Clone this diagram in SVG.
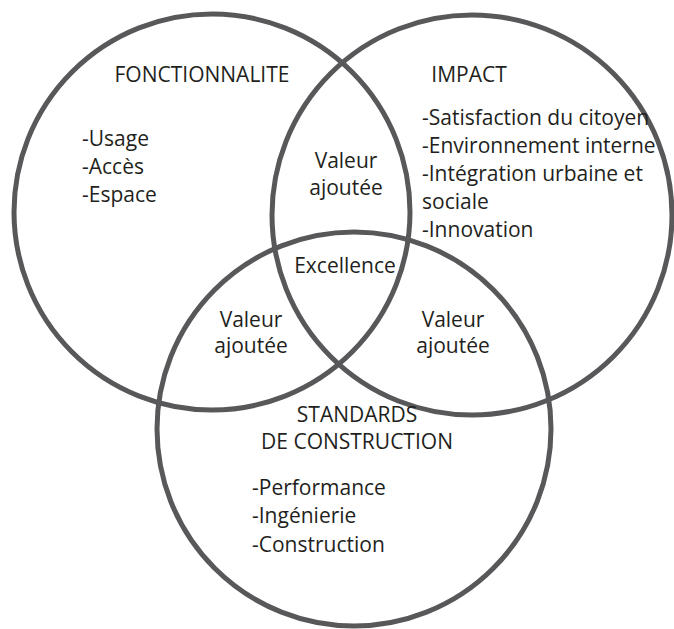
<svg xmlns="http://www.w3.org/2000/svg" width="674" height="629" viewBox="0 0 674 629">
<style>
  .ring { fill: none; stroke: #58585a; stroke-width: 5; }
  text { font-family: "Open Sans", "Noto Sans", "DejaVu Sans", sans-serif; font-size: 21px; fill: #231f20; }
  .c { text-anchor: middle; }
</style>
<rect x="0" y="0" width="674" height="629" fill="#ffffff"/>
<g id="circle-fonctionnalite">
  <circle class="ring" cx="212" cy="212" r="198"/>
  <text class="c" x="202" y="82">FONCTIONNALITE</text>
  <text x="82" y="146">-Usage</text>
  <text x="82" y="174">-Accès</text>
  <text x="82" y="202">-Espace</text>
</g>
<g id="circle-impact">
  <circle class="ring" cx="472" cy="215" r="200"/>
  <text class="c" x="469" y="82">IMPACT</text>
  <text x="422" y="125">-Satisfaction du citoyen</text>
  <text x="422" y="153">-Environnement interne</text>
  <text x="422" y="181">-Intégration urbaine et</text>
  <text x="422" y="209">sociale</text>
  <text x="422" y="237">-Innovation</text>
</g>
<g id="circle-standards">
  <circle class="ring" cx="354" cy="429" r="197"/>
  <text class="c" x="357" y="422">STANDARDS</text>
  <text class="c" x="357" y="449">DE CONSTRUCTION</text>
  <text x="252" y="495">-Performance</text>
  <text x="252" y="523">-Ingénierie</text>
  <text x="252" y="552">-Construction</text>
</g>
<g id="overlap-top">
  <text class="c" x="346" y="168">Valeur</text>
  <text class="c" x="346" y="195">ajoutée</text>
</g>
<g id="overlap-left">
  <text class="c" x="251" y="327">Valeur</text>
  <text class="c" x="251" y="353">ajoutée</text>
</g>
<g id="overlap-right">
  <text class="c" x="453" y="327">Valeur</text>
  <text class="c" x="453" y="353">ajoutée</text>
</g>
<g id="center-excellence">
  <text class="c" x="345" y="273">Excellence</text>
</g>
<g id="connectors"></g>
</svg>
